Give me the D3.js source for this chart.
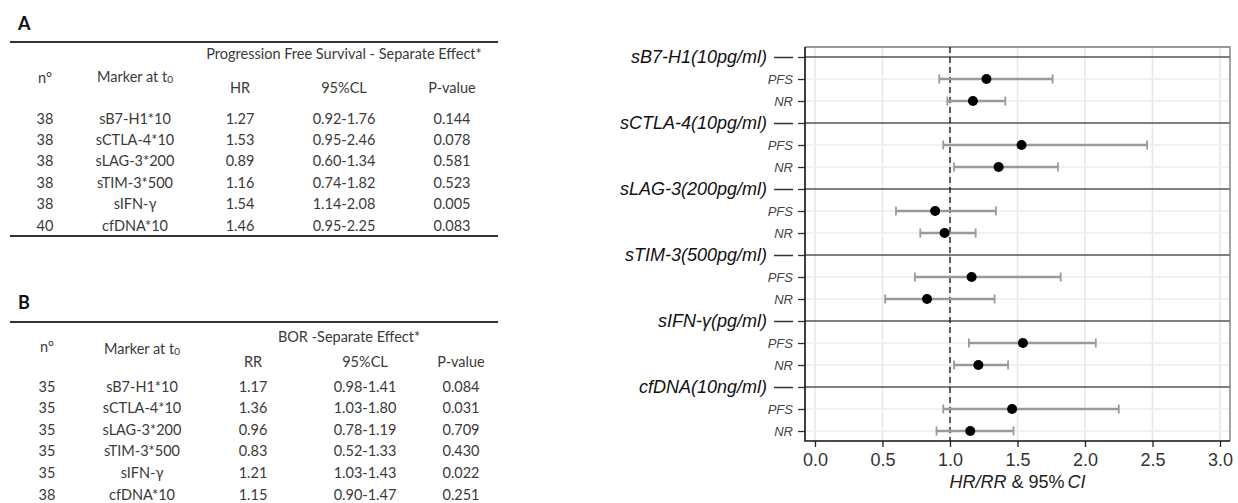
<!DOCTYPE html>
<html>
<head>
<meta charset="utf-8">
<script src="https://cdn.jsdelivr.net/npm/d3@7"></script>
<style>
  body { margin: 0; background: #fff; }
  svg { display: block; }
</style>
</head>
<body>
<svg id="chart" width="1238" height="503"></svg>
<script>
// markers and forest labels
const markers = ["sB7-H1*10", "sCTLA-4*10", "sLAG-3*200", "sTIM-3*500", "sIFN-γ", "cfDNA*10"];
const groupLabels = ["sB7-H1(10pg/ml)", "sCTLA-4(10pg/ml)", "sLAG-3(200pg/ml)", "sTIM-3(500pg/ml)", "sIFN-γ(pg/ml)", "cfDNA(10ng/ml)"];
const subLabels = ["PFS", "NR"];

// A: progression free survival
const nA = [38, 38, 38, 38, 38, 40];
const hrA = [1.27, 1.53, 0.89, 1.16, 1.54, 1.46];
const loA = [0.92, 0.95, 0.60, 0.74, 1.14, 0.95];
const hiA = [1.76, 2.46, 1.34, 1.82, 2.08, 2.25];
const pA = ["0.144", "0.078", "0.581", "0.523", "0.005", "0.083"];

// B: best overall response
const nB = [35, 35, 35, 35, 35, 38];
const rrB = [1.17, 1.36, 0.96, 0.83, 1.21, 1.15];
const loB = [0.98, 1.03, 0.78, 0.52, 1.03, 0.90];
const hiB = [1.41, 1.80, 1.19, 1.33, 1.43, 1.47];
const pB = ["0.084", "0.031", "0.709", "0.430", "0.022", "0.251"];

const xTicks = [0, 0.5, 1, 1.5, 2, 2.5, 3];

const svg = d3.select("#chart");
svg.append("rect").attr("width", 1238).attr("height", 503).attr("fill", "#fff");

const f2 = d3.format(".2f");
const tableFont = "Lato, 'Open Sans', sans-serif";
const txtCol = "#3a3a3a";

function drawTable(cfg) {
  const g = svg.append("g");
  g.append("text")
    .attr("x", 18).attr("y", cfg.letterY)
    .attr("dominant-baseline", "central")
    .style("font-family", tableFont).style("font-size", "18px").attr("font-weight", 700)
    .attr("fill", "#111")
    .text(cfg.letter);

  g.append("line")
    .attr("x1", 10).attr("x2", 498).attr("y1", cfg.ruleTop).attr("y2", cfg.ruleTop)
    .attr("stroke", "#333").attr("stroke-width", 2);
  if (cfg.ruleBottom) {
    g.append("line")
      .attr("x1", 10).attr("x2", 498).attr("y1", cfg.ruleBottom).attr("y2", cfg.ruleBottom)
      .attr("stroke", "#333").attr("stroke-width", 2);
  }

  const t = (x, y, s) => g.append("text")
    .attr("x", x).attr("y", y)
    .attr("text-anchor", "middle").attr("dominant-baseline", "central")
    .style("font-family", tableFont).style("font-size", "14.5px")
    .attr("fill", txtCol)
    .text(s);

  const c = cfg.cols;
  t(cfg.headCenter, cfg.headY, cfg.header);
  t(c[0], cfg.nY, "n°");
  const mk = t(c[1], cfg.markerY, "Marker at t");
  mk.append("tspan").attr("font-size", "10px").attr("dy", 3).text("0");
  t(c[2], cfg.subY, cfg.est);
  t(c[3], cfg.subY, "95%CL");
  t(c[4], cfg.subY, "P-value");

  const y = d3.scalePoint().domain(markers).range(cfg.rowRange);
  markers.forEach((m, i) => {
    t(c[0], y(m), cfg.n[i]);
    t(c[1], y(m), m);
    t(c[2], y(m), f2(cfg.v[i]));
    t(c[3], y(m), f2(cfg.lo[i]) + "-" + f2(cfg.hi[i]));
    t(c[4], y(m), cfg.p[i]);
  });
}

drawTable({
  letter: "A", letterY: 23, ruleTop: 42, ruleBottom: 236,
  header: "Progression Free Survival - Separate Effect*", headCenter: 344, headY: 53,
  nY: 77, markerY: 76, subY: 87, est: "HR",
  cols: [45, 135, 240, 344, 452], rowRange: [118, 225],
  n: nA, v: hrA, lo: loA, hi: hiA, p: pA
});

drawTable({
  letter: "B", letterY: 302, ruleTop: 322, ruleBottom: null,
  header: "BOR -Separate Effect*", headCenter: 349, headY: 336,
  nY: 346, markerY: 348, subY: 361, est: "RR",
  cols: [47, 142, 253, 365, 461], rowRange: [386, 494],
  n: nB, v: rrB, lo: loB, hi: hiB, p: pB
});

// ---- forest plot ----
const panel = { left: 805, right: 1230, top: 47, bottom: 441 };
const plotFont = "'Liberation Sans', Arial, sans-serif";

const rows = [];
groupLabels.forEach((gl, i) => {
  rows.push({ key: "g" + i, type: "group", label: gl });
  subLabels.forEach(s => rows.push({ key: s + i, type: "sub", label: s, i: i }));
});

const x = d3.scaleLinear().domain([0, 3]).range([815, 1220]);
const y = d3.scalePoint().domain(rows.map(r => r.key)).range([panel.top + 10, panel.bottom - 10]);

const fp = svg.append("g");

// grid
fp.selectAll(".vgrid").data(xTicks).enter().append("line")
  .attr("x1", d => x(d)).attr("x2", d => x(d))
  .attr("y1", panel.top).attr("y2", panel.bottom)
  .attr("stroke", "#e8e8e8").attr("stroke-width", 1.6);
fp.selectAll(".hgrid").data(rows.filter(r => r.type === "sub")).enter().append("line")
  .attr("x1", panel.left).attr("x2", panel.right)
  .attr("y1", d => y(d.key)).attr("y2", d => y(d.key))
  .attr("stroke", "#ececec").attr("stroke-width", 1.6);

// group separators
fp.selectAll(".gline").data(rows.filter(r => r.type === "group")).enter().append("line")
  .attr("x1", panel.left).attr("x2", panel.right)
  .attr("y1", d => y(d.key)).attr("y2", d => y(d.key))
  .attr("stroke", "#555").attr("stroke-width", 1.3);

// panel border (top/right light)
fp.append("path")
  .attr("d", `M${panel.left},${panel.top}H${panel.right}V${panel.bottom}`)
  .attr("fill", "none").attr("stroke", "#777").attr("stroke-width", 1.3);

// reference line at 1
fp.append("line")
  .attr("x1", x(1)).attr("x2", x(1))
  .attr("y1", panel.top).attr("y2", panel.bottom)
  .attr("stroke", "#111").attr("stroke-width", 1.3)
  .attr("stroke-dasharray", "6,4");

// estimates
const est = [];
markers.forEach((m, i) => {
  est.push({ key: "PFS" + i, v: hrA[i], lo: loA[i], hi: hiA[i] });
  est.push({ key: "NR" + i, v: rrB[i], lo: loB[i], hi: hiB[i] });
});

const eb = fp.selectAll(".eb").data(est).enter().append("g");
eb.append("line")
  .attr("x1", d => x(d.lo)).attr("x2", d => x(d.hi))
  .attr("y1", d => y(d.key)).attr("y2", d => y(d.key))
  .attr("stroke", "#9a9a9a").attr("stroke-width", 2.6);
["lo", "hi"].forEach(k => {
  eb.append("line")
    .attr("x1", d => x(d[k])).attr("x2", d => x(d[k]))
    .attr("y1", d => y(d.key) - 4.5).attr("y2", d => y(d.key) + 4.5)
    .attr("stroke", "#9a9a9a").attr("stroke-width", 1.8);
});
eb.append("circle")
  .attr("cx", d => x(d.v)).attr("cy", d => y(d.key))
  .attr("r", 5).attr("fill", "#000");

// y axis
const yAxis = fp.append("g")
  .attr("transform", `translate(${panel.left},0)`)
  .call(d3.axisLeft(y).tickSize(7).tickPadding(5)
    .tickFormat(k => rows.find(r => r.key === k).label));
yAxis.select(".domain").remove();
yAxis.selectAll(".tick line").attr("stroke", "#333").attr("stroke-width", 1.3);
yAxis.selectAll(".tick text")
  .attr("fill", d => d[0] === "g" ? "#111" : "#444")
  .style("font-family", plotFont)
  .style("font-style", "italic")
  .style("font-size", d => d[0] === "g" ? "18px" : "13px")
  .attr("x", d => d[0] === "g" ? -38 : -12);
yAxis.selectAll(".tick").filter(d => d[0] === "g").append("line")
  .attr("x1", -31).attr("x2", -12)
  .attr("stroke", "#333").attr("stroke-width", 1.5);

// x axis
const xAxis = fp.append("g")
  .attr("transform", `translate(0,${panel.bottom})`)
  .call(d3.axisBottom(x).tickValues(xTicks).tickFormat(d3.format(".1f")).tickSize(6).tickPadding(6));
xAxis.select(".domain").remove();
xAxis.selectAll(".tick line").attr("stroke", "#222").attr("stroke-width", 1.3);
xAxis.selectAll(".tick text")
  .attr("fill", "#333")
  .style("font-family", plotFont).style("font-size", "18px");

// left / bottom axis lines
fp.append("path")
  .attr("d", `M${panel.left},${panel.top}V${panel.bottom}H${panel.right}`)
  .attr("fill", "none").attr("stroke", "#111").attr("stroke-width", 1.6);

// x title
const xt = fp.append("text")
  .attr("x", (panel.left + panel.right) / 2).attr("y", 482)
  .attr("text-anchor", "middle").attr("dominant-baseline", "central")
  .style("font-family", plotFont).style("font-size", "18px")
  .attr("fill", "#222");
xt.append("tspan").style("font-style", "italic").text("HR/RR");
xt.append("tspan").text(" & 95%");
xt.append("tspan").style("font-style", "italic").attr("dx", 3).text("CI");
</script>
</body>
</html>
